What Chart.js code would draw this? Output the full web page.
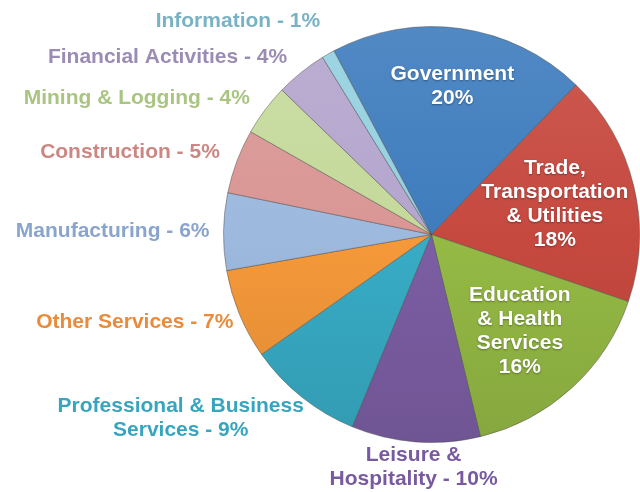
<!DOCTYPE html>
<html>
<head>
<meta charset="utf-8">
<script src="https://cdn.jsdelivr.net/npm/chart.js@4"></script>
<style>
  html, body { margin: 0; padding: 0; background: #fff; }
  #wrap { width: 640px; height: 492px; }
</style>
</head>
<body>
<div id="wrap"><canvas id="jobsChart" width="640" height="492"></canvas></div>
<script>
// categories, clockwise from Government
const categories = [
  'Government', 'Trade, Transportation & Utilities', 'Education & Health Services',
  'Leisure & Hospitality', 'Professional & Business Services', 'Other Services',
  'Manufacturing', 'Construction', 'Mining & Logging', 'Financial Activities', 'Information'
];
const shares = [20, 18, 16, 10, 9, 7, 6, 5, 4, 4, 1];

// how each label is broken into lines (last line gets the percentage)
const labelLines = [
  ['Government'], ['Trade,', 'Transportation', '& Utilities'], ['Education', '& Health', 'Services'],
  ['Leisure &', 'Hospitality'], ['Professional & Business', 'Services'], ['Other Services'],
  ['Manufacturing'], ['Construction'], ['Mining & Logging'], ['Financial Activities'], ['Information']
];

const sliceColors = ['#3e7cbd', '#c6493f', '#95ba45', '#7c5ea4', '#38acc6', '#f6993a',
  '#9db9de', '#d99694', '#c5d99b', '#b4a5cd', '#94d0e0'];
const textColors = ['#ffffff', '#ffffff', '#ffffff', '#785aa0', '#37a5be', '#e88c3c',
  '#89a5cd', '#cd8782', '#aac482', '#9b8cb4', '#78b2c4'];

// label placement: radius factor, nudge, alignment, inside (value on own line)
const labelPos = [
  { f: 0.72, dx: 0, dy: 0, align: 'center', inside: true },
  { f: 0.61, dx: 0, dy: 0, align: 'center', inside: true },
  { f: 0.63, dx: 0, dy: 0, align: 'center', inside: true },
  { f: 1.12, dx: 0, dy: 0, align: 'center' },
  { f: 1.0, dx: -121, dy: 21, align: 'center' },
  { f: 1.0, dx: -6, dy: 8, align: 'right' },
  { f: 1.0, dx: -14, dy: 0, align: 'right' },
  { f: 1.0, dx: -17, dy: -9, align: 'right' },
  { f: 1.0, dx: -15, dy: -12, align: 'right' },
  { f: 1.0, dx: -14, dy: -15, align: 'right' },
  { f: 1.0, dx: -8, dy: -33, align: 'right' }
];

const lineHeight = 24;

// lighten (amt > 0) or darken (amt < 0) a hex colour
function shade(hex, amt) {
  const n = parseInt(hex.slice(1), 16);
  const ch = [(n >> 16) & 255, (n >> 8) & 255, n & 255].map(v => {
    const t = amt > 0 ? v + (255 - v) * amt : v * (1 + amt);
    return Math.round(Math.min(255, Math.max(0, t)));
  });
  return 'rgb(' + ch.join(',') + ')';
}

// slight top-to-bottom shading like the original glossy pie
function sliceFill(c) {
  const base = sliceColors[c.dataIndex];
  const area = c.chart.chartArea;
  if (!area) return base;
  const g = c.chart.ctx.createLinearGradient(0, area.top, 0, area.bottom);
  g.addColorStop(0, shade(base, 0.1));
  g.addColorStop(0.5, base);
  g.addColorStop(1, shade(base, -0.1));
  return g;
}

const sliceLabels = {
  id: 'sliceLabels',
  afterDatasetsDraw(chart) {
    const ctx = chart.ctx;
    const arcs = chart.getDatasetMeta(0).data;
    ctx.save();
    ctx.font = 'bold 21px "Liberation Sans", Arial, sans-serif';
    ctx.textBaseline = 'middle';
    arcs.forEach((arc, i) => {
      const p = labelPos[i];
      const mid = (arc.startAngle + arc.endAngle) / 2;
      const r = arc.outerRadius * p.f;
      const ax = arc.x + Math.cos(mid) * r + p.dx;
      const ay = arc.y + Math.sin(mid) * r + p.dy;
      let lines = labelLines[i].slice();
      if (p.inside) {
        lines.push(shares[i] + '%');
      } else {
        lines[lines.length - 1] += ' - ' + shares[i] + '%';
      }
      const top = ay - (lines.length - 1) * lineHeight / 2;
      ctx.textAlign = p.align;
      ctx.fillStyle = textColors[i];
      if (p.inside) {
        ctx.shadowColor = 'rgba(0,0,0,0.35)';
        ctx.shadowBlur = 2;
        ctx.shadowOffsetY = 1;
      } else {
        ctx.shadowColor = 'transparent';
      }
      lines.forEach((t, k) => ctx.fillText(t, ax, top + k * lineHeight));
    });
    ctx.restore();
  }
};

new Chart(document.getElementById('jobsChart'), {
  type: 'pie',
  data: {
    labels: categories,
    datasets: [{
      data: shares,
      backgroundColor: sliceFill,
      borderColor: 'rgba(70,70,70,0.45)',
      borderWidth: 1
    }]
  },
  options: {
    responsive: false,
    animation: false,
    rotation: -28,
    layout: { padding: { left: 223, right: 0, top: 26, bottom: 49 } },
    plugins: {
      legend: { display: false },
      tooltip: { enabled: false }
    }
  },
  plugins: [sliceLabels]
});
</script>
</body>
</html>
